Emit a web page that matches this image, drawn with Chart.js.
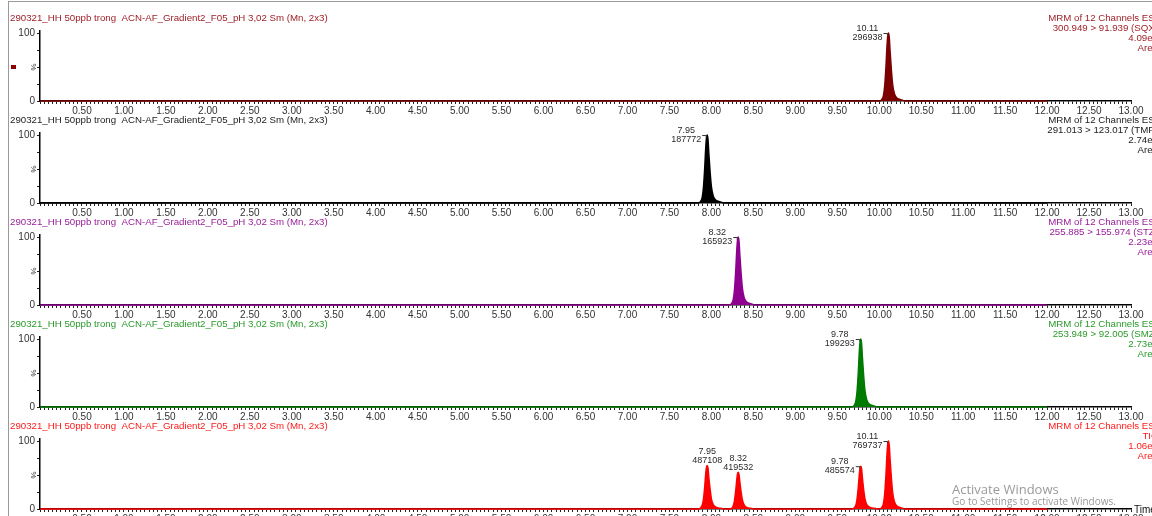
<!DOCTYPE html>
<html>
<head>
<meta charset="utf-8">
<script src="https://cdn.jsdelivr.net/npm/chart.js@4.4.1/dist/chart.umd.min.js"></script>
<style>
  html, body { margin:0; padding:0; background:#fff; }
  body { width:1152px; height:516px; overflow:hidden; position:relative; font-family:"Liberation Sans", Arial, sans-serif; }
  #frame { position:absolute; left:8px; top:1px; width:1200px; height:600px; border-left:1px solid #9a9a9a; border-top:1px solid #9a9a9a; }
  canvas.panel { position:absolute; left:0; }
  .wm1 { position:absolute; left:952px; top:480px; font-family:"Open Sans", "Noto Sans", sans-serif; font-size:13px; color:#9a9a9a; white-space:nowrap; }
  .wm2 { position:absolute; left:952px; top:494px; font-family:"Open Sans", "Noto Sans", sans-serif; font-size:10px; color:#9a9a9a; white-space:nowrap; }
</style>
</head>
<body>
<div id="frame"></div>
<canvas class="panel" id="c0" width="1152" height="118" style="top:0px"></canvas>
<canvas class="panel" id="c1" width="1152" height="118" style="top:102px"></canvas>
<canvas class="panel" id="c2" width="1152" height="118" style="top:204px"></canvas>
<canvas class="panel" id="c3" width="1152" height="118" style="top:306px"></canvas>
<canvas class="panel" id="c4" width="1152" height="118" style="top:408px"></canvas>
<div class="wm1">Activate Windows</div>
<div class="wm2">Go to Settings to activate Windows.</div>
<script>
// ---------------- DATA ----------------
const sampleTitle = "290321_HH 50ppb trong  ACN-AF_Gradient2_F05_pH 3,02 Sm (Mn, 2x3)";
const xTickLabels = ["0.50","1.00","1.50","2.00","2.50","3.00","3.50","4.00","4.50","5.00","5.50","6.00","6.50","7.00","7.50","8.00","8.50","9.00","9.50","10.00","10.50","11.00","11.50","12.00","12.50","13.00"];
const yTickLabels = ["0","%","100"];

const channelInfo1 = ["MRM of 12 Channels ES-","300.949 > 91.939 (SQX)","4.09e5","Area"];
const channelInfo2 = ["MRM of 12 Channels ES-","291.013 > 123.017 (TMP)","2.74e5","Area"];
const channelInfo3 = ["MRM of 12 Channels ES-","255.885 > 155.974 (STZ)","2.23e5","Area"];
const channelInfo4 = ["MRM of 12 Channels ES-","253.949 > 92.005 (SMZ)","2.73e5","Area"];
const channelInfo5 = ["MRM of 12 Channels ES-","TIC","1.06e6","Area"];

// trace 1 : peak at 10.11
const time1 = [0,10.00,10.03,10.05,10.065,10.08,10.09,10.10,10.11,10.12,10.13,10.145,10.16,10.18,10.20,10.23,10.27,10.31,12.00];
const int1  = [0,0,2,8,22,50,75,94,100,93,72,45,24,11,6,3,1.5,0,0];
// trace 2 : peak at 7.95
const time2 = [0,7.84,7.87,7.89,7.905,7.92,7.93,7.94,7.95,7.96,7.97,7.985,8.00,8.02,8.04,8.07,8.11,8.15,12.00];
const int2  = [0,0,2,8,22,50,75,94,100,93,72,45,24,11,6,3,1.5,0,0];
// trace 3 : peak at 8.32
const time3 = [0,8.21,8.24,8.26,8.275,8.29,8.30,8.31,8.32,8.33,8.34,8.355,8.37,8.39,8.41,8.44,8.48,8.52,12.00];
const int3  = [0,0,2,8,22,50,75,94,100,93,72,45,24,11,6,3,1.5,0,0];
// trace 4 : peak at 9.78
const time4 = [0,9.67,9.70,9.72,9.735,9.75,9.76,9.77,9.78,9.79,9.80,9.815,9.83,9.85,9.87,9.90,9.94,9.98,12.00];
const int4  = [0,0,2,8,22,50,75,94,100,93,72,45,24,11,6,3,1.5,0,0];
// trace 5 : TIC
const time5 = [0,
  7.84,7.87,7.89,7.905,7.92,7.93,7.94,7.95,7.96,7.97,7.985,8.00,8.02,8.04,8.07,8.11,8.15,
  8.21,8.24,8.26,8.275,8.29,8.30,8.31,8.32,8.33,8.34,8.355,8.37,8.39,8.41,8.44,8.48,8.52,
  9.67,9.70,9.72,9.735,9.75,9.76,9.77,9.78,9.79,9.80,9.815,9.83,9.85,9.87,9.90,9.94,9.98,
  10.00,10.03,10.05,10.065,10.08,10.09,10.10,10.11,10.12,10.13,10.145,10.16,10.18,10.20,10.23,10.27,10.31,
  12.00];
const int5 = [0,
  0,1.5,5.5,14,32,48,60,64,60,46,29,15,7,4,2,1,0,
  0,1,4.5,12,27,40,51,54,50,39,24,13,6,3,1.6,0.8,0,
  0,1.5,5,14,31,47,59,63,59,45,28,15,7,4,2,1,0,
  0,2,8,22,50,75,94,100,93,72,45,24,11,6,3,1.5,0,
  0];

// peak annotations: retention time, height (%), area
const peakRT1 = [10.11]; const peakH1 = [100]; const peakArea1 = ["296938"];
const peakRT2 = [7.95];  const peakH2 = [100]; const peakArea2 = ["187772"];
const peakRT3 = [8.32];  const peakH3 = [100]; const peakArea3 = ["165923"];
const peakRT4 = [9.78];  const peakH4 = [100]; const peakArea4 = ["199293"];
const peakRT5 = [7.95, 8.32, 9.78, 10.11]; const peakH5 = [64, 54, 63, 100];
const peakArea5 = ["487108","419532","485574","769737"];

// ---------------- STYLE ----------------
const FONT = '"Liberation Sans", Arial, sans-serif';
const panels = [
  {time:time1, val:int1, rt:peakRT1, h:peakH1, area:peakArea1, info:channelInfo1, fill:'#7d0000', text:'#a0222a', place:['left'], marker:true},
  {time:time2, val:int2, rt:peakRT2, h:peakH2, area:peakArea2, info:channelInfo2, fill:'#000000', text:'#222222', place:['left']},
  {time:time3, val:int3, rt:peakRT3, h:peakH3, area:peakArea3, info:channelInfo3, fill:'#8f008f', text:'#9a1e9a', place:['left']},
  {time:time4, val:int4, rt:peakRT4, h:peakH4, area:peakArea4, info:channelInfo4, fill:'#007a00', text:'#2a9a2a', place:['left']},
  {time:time5, val:int5, rt:peakRT5, h:peakH5, area:peakArea5, info:channelInfo5, fill:'#ff0000', text:'#ff1a1a', place:['center','center','left','left'], timeLabel:true}
];

function fmt(v){ return v.toFixed(2); }

const annotPlugin = {
  id:'annot',
  afterDraw(chart){
    const p = chart.options.plugins.annot.panel;
    const ctx = chart.ctx;
    const xs = chart.scales.x, ys = chart.scales.y;
    ctx.save();
    // header
    ctx.font = '9.7px ' + FONT;
    ctx.textBaseline = 'middle';
    ctx.fillStyle = p.text;
    ctx.textAlign = 'left';
    ctx.fillText(sampleTitle, 10, 18);
    // channel info right
    ctx.textAlign = 'right';
    const infoY = [18, 28, 38, 48];
    p.info.forEach((s,i)=>ctx.fillText(s, 1158, infoY[i]));
    // % label
    ctx.save();
    ctx.translate(33, ys.getPixelForValue(50));
    ctx.rotate(Math.PI/2);
    ctx.textAlign = 'center';
    ctx.fillStyle = '#333';
    ctx.font = '8px ' + FONT;
    ctx.fillText(yTickLabels[1], 0, 0);
    ctx.restore();
    // peak labels
    ctx.font = '9px ' + FONT;
    ctx.fillStyle = '#2a2a2a';
    ctx.strokeStyle = '#333';
    ctx.lineWidth = 1;
    p.rt.forEach((rt,i)=>{
      const ax = xs.getPixelForValue(rt), ay = ys.getPixelForValue(p.h[i]);
      const l1 = fmt(rt), l2 = p.area[i];
      ctx.textAlign = 'center';
      if (p.place[i] === 'center') {
        ctx.fillText(l1, ax, ay - 14);
        ctx.fillText(l2, ax, ay - 5);
      } else {
        const w = Math.max(ctx.measureText(l1).width, ctx.measureText(l2).width);
        const cx = ax - 6 - w/2;
        ctx.fillText(l1, cx, ay - 5);
        ctx.fillText(l2, cx, ay + 4.5);
        ctx.beginPath();
        ctx.moveTo(ax - 5, ay + 0.5); ctx.lineTo(ax - 1, ay + 0.5); ctx.lineTo(ax - 1, ay + 2.5);
        ctx.stroke();
      }
    });
    if (p.marker) { ctx.fillStyle = '#8b0000'; ctx.fillRect(11, 65, 5, 4); }
    if (p.timeLabel) {
      ctx.fillStyle = '#111'; ctx.textAlign = 'left'; ctx.font = '10px ' + FONT;
      ctx.fillText('Time', 1134, ys.getPixelForValue(0) + 1);
    }
    ctx.restore();
  }
};

panels.forEach((p, idx) => {
  const ctx = document.getElementById('c' + idx);
  new Chart(ctx, {
    type: 'line',
    data: {
      datasets: [{
        data: p.time.map((t,i)=>({x:t, y:p.val[i]})),
        borderColor: p.fill, backgroundColor: p.fill, fill: 'origin',
        borderWidth: 1.5, pointRadius: 0, cubicInterpolationMode: 'monotone', clip: 4
      }]
    },
    options: {
      responsive: false, animation: false, devicePixelRatio: 1,
      layout: { padding: { top: 31, right: 21, left: 0, bottom: 0 } },
      plugins: { legend: { display: false }, tooltip: { enabled: false }, annot: { panel: p } },
      scales: {
        x: {
          type: 'linear', min: 0, max: 13,
          afterFit(s){ s.height = 17; },
          grid: { drawOnChartArea: false, drawTicks: true, tickLength: 3, color: '#222', tickWidth: 1 },
          border: { color: '#000', width: 1.5 },
          ticks: {
            stepSize: 0.05, autoSkip: false, maxRotation: 0, minRotation: 0, padding: 1,
            includeBounds: false,
            font: { family: FONT, size: 10 }, color: '#333',
            callback: (v) => { const s = fmt(v); return xTickLabels.includes(s) && Math.abs(v*2 - Math.round(v*2)) < 1e-6 ? s : ''; }
          }
        },
        y: {
          min: 0, max: 103,
          afterFit(s){ s.width = 40; },
          grid: { drawOnChartArea: false, drawTicks: true, tickLength: 3, color: '#222' },
          border: { color: '#000', width: 1.5 },
          ticks: {
            stepSize: 5, includeBounds: false, padding: 2,
            font: { family: FONT, size: 10 }, color: '#333',
            callback: (v) => v === 100 ? yTickLabels[2] : (v === 0 ? yTickLabels[0] : '')
          }
        }
      }
    },
    plugins: [annotPlugin]
  });
});
</script>
</body>
</html>
